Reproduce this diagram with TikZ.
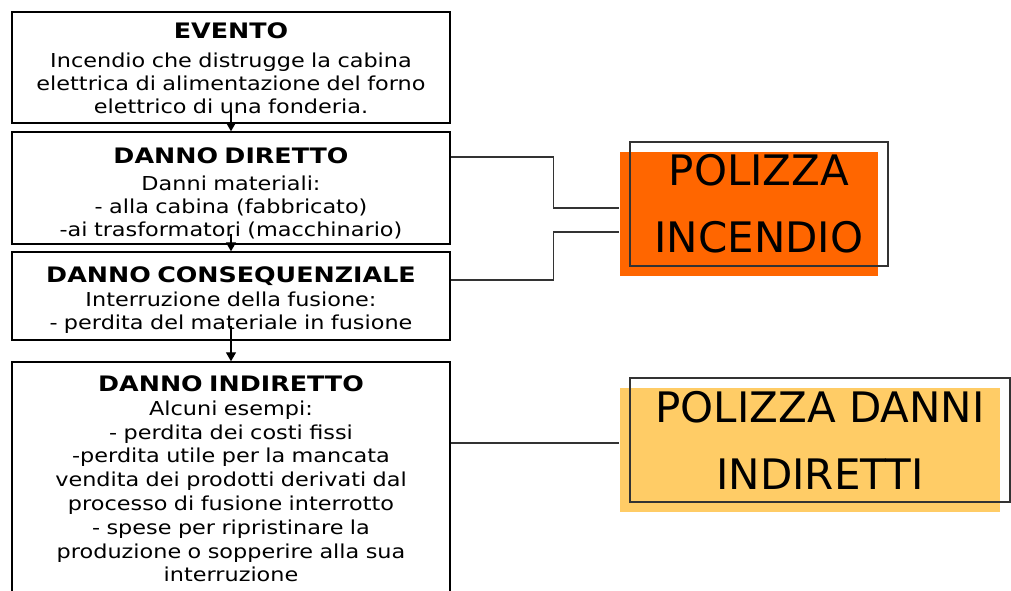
\documentclass[tikz,border=0pt]{standalone}
\usepackage{fontspec}
\usetikzlibrary{positioning,arrows.meta,shadows}
\newfontfamily\boxfont[FakeStretch=1.165]{DejaVu Sans}
\newfontfamily\titlefont[FakeStretch=1.19]{DejaVu Sans}
\newfontfamily\polfont{DejaVu Sans}
\definecolor{polorange}{HTML}{FF6600}
\definecolor{polyellow}{HTML}{FFCC66}
% titolo in grassetto: [altezza riga] {testo} {spazio sotto}
\newcommand{\titolo}[3][0pt]{{\titlefont\bfseries\fontsize{10.65}{11.5}\selectfont\rule{0pt}{#1}#2}\\[#3]}

\begin{document}
\begin{tikzpicture}[x=0.5pt,y=-0.5pt]
		% Stili per i nodi
		\tikzstyle{danno} = [rectangle, draw=black, line width=0.7pt, minimum width=219pt, text width=214pt, inner sep=2pt, align=center, font=\boxfont\fontsize{9.6}{11.5}\selectfont]
		\tikzstyle{polizza} = [rectangle, draw=black!80, line width=0.6pt, minimum height=62pt, inner sep=0pt, align=center, font=\polfont\fontsize{21}{33.5}\selectfont]
		\tikzstyle{arrow} = [line width=0.6pt,-{Triangle[width=5pt,length=4.5pt]}]
		\tikzstyle{link} = [line width=0.6pt, draw=black!80]
		\clip (0,0) rectangle (1011,590);
		% Nodi
		\node (evento) [danno, minimum height=55.5pt] at (231,67.5) {\titolo[8.8pt]{EVENTO}{3pt}Incendio che distrugge la cabina\\elettrica di alimentazione del forno\\elettrico di una fonderia.};
		\node (diretto) [danno, minimum height=56pt, below=3.8pt of evento] {\titolo[13.3pt]{DANNO DIRETTO}{2pt}Danni materiali:\\- alla cabina (fabbricato)\\-ai trasformatori (macchinario)};
		\node (conseq) [danno, minimum height=44pt, below=3.3pt of diretto] {\titolo[11.8pt]{DANNO CONSEQUENZIALE}{0.5pt}Interruzione della fusione:\\- perdita del materiale in fusione};
		\node (indiretto) [danno, minimum height=117pt, below=10.3pt of conseq, font=\boxfont\fontsize{9.6}{11.9}\selectfont] {\titolo{DANNO INDIRETTO}{0pt}Alcuni esempi:\\- perdita dei costi fissi\\-perdita utile per la mancata\\vendita dei prodotti derivati dal\\processo di fusione interrotto\\- spese per ripristinare la\\produzione o sopperire alla sua\\interruzione};
		\node (pin) [polizza, minimum width=129pt, general shadow={fill=polorange, shadow xshift=-5pt, shadow yshift=-5pt}] at (759,204) {POLIZZA\\INCENDIO};
		\node (pdi) [polizza, minimum width=190pt, general shadow={fill=polyellow, shadow xshift=-5pt, shadow yshift=-5pt}] at (820,440) {POLIZZA DANNI\\INDIRETTI};
		% Frecce
		\draw [arrow] ([yshift=6.5pt]evento.south) -- (diretto.north);
		\draw [arrow] ([yshift=5.5pt]diretto.south) -- (conseq.north);
		\draw [arrow] ([yshift=7.5pt]conseq.south) -- (indiretto.north);
		% Collegamenti alle polizze
		\draw [link] ([yshift=15.5pt]diretto.east) -- ++(51.5pt,0) |- ([xshift=-5pt,yshift=-2pt]pin.west);
		\draw [link] ([yshift=8pt]conseq.east) -- ++(51.5pt,0) |- ([xshift=-5pt,yshift=-14pt]pin.west);
		\coordinate (pdiin) at ([xshift=-5pt,yshift=-1.5pt]pdi.west);
		\draw [link] (indiretto.east |- pdiin) -- (pdiin);
	\end{tikzpicture}
\end{document}
